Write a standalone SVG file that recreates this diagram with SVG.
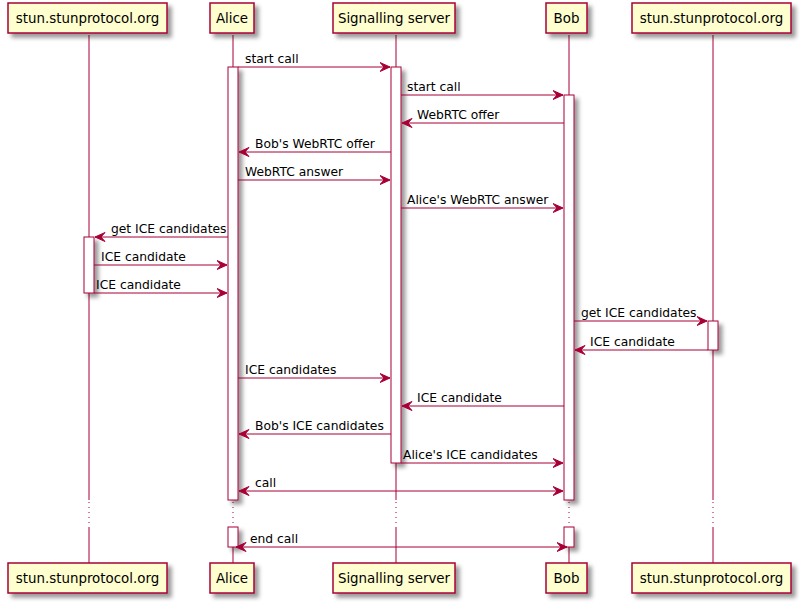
<svg xmlns="http://www.w3.org/2000/svg" width="800" height="602" viewBox="0 0 800 602">
<defs>
<filter id="sh" x="-1" y="-1" width="300%" height="300%">
<feGaussianBlur result="b" stdDeviation="2"/>
<feColorMatrix in="b" result="b2" type="matrix" values="0 0 0 0 0 0 0 0 0 0 0 0 0 0 0 0 0 0 .4 0"/>
<feOffset dx="4" dy="4" in="b2" result="b3"/>
<feBlend in="SourceGraphic" in2="b3" mode="normal"/>
</filter>
<marker id="ah" viewBox="0 0 11 10" refX="10.5" refY="5" markerWidth="11" markerHeight="10" markerUnits="userSpaceOnUse" orient="auto-start-reverse">
<polygon points="0.5,0.5 10.5,5 0.5,9.5 4.5,5" fill="#A80036" stroke="#A80036" stroke-width="1" stroke-linejoin="miter"/>
</marker>
</defs>
<style>
.box{fill:#FEFECE;stroke:#A80036;stroke-width:1.5;filter:url(#sh)}
.pt{font-family:"DejaVu Sans","Liberation Sans",sans-serif;font-size:13.4px;fill:#000;text-anchor:middle}
.life{stroke:#A80036;stroke-width:1;fill:none}
.dot{stroke:#A80036;stroke-width:1;stroke-dasharray:1,4;fill:none}
.act{fill:#FFFFFF;stroke:#A80036;stroke-width:1;filter:url(#sh)}
.msg{stroke:#A80036;stroke-width:1;fill:none;marker-end:url(#ah)}
.bi{stroke:#A80036;stroke-width:1;fill:none;marker-end:url(#ah);marker-start:url(#ah)}
.ml{font-family:"DejaVu Sans","Liberation Sans",sans-serif;font-size:12.3px;fill:#000}
</style>
<rect width="800" height="602" fill="#FFFFFF"/>
<g id="lifelines">
<path class="life" d="M89,35 V500 M89,527 V563"/>
<path class="dot" d="M89,502 V526"/>
<path class="life" d="M233,35 V500 M233,527 V563"/>
<path class="dot" d="M233,502 V526"/>
<path class="life" d="M396,35 V500 M396,527 V563"/>
<path class="dot" d="M396,502 V526"/>
<path class="life" d="M569,35 V500 M569,527 V563"/>
<path class="dot" d="M569,502 V526"/>
<path class="life" d="M713,35 V500 M713,527 V563"/>
<path class="dot" d="M713,502 V526"/>
</g>
<g id="activations">
<rect class="act" x="228" y="67" width="10" height="433"/>
<rect class="act" x="391" y="67" width="10" height="396"/>
<rect class="act" x="564" y="95" width="10" height="405"/>
<rect class="act" x="84" y="237" width="10" height="56"/>
<rect class="act" x="708" y="321" width="10" height="29"/>
<rect class="act" x="228" y="527" width="10" height="20"/>
<rect class="act" x="564" y="527" width="10" height="20"/>
</g>
<g id="stun1_top"><rect class="box" x="8" y="3" width="159" height="30"/><text class="pt" x="87.5" y="23">stun.stunprotocol.org</text></g>
<g id="alice_top"><rect class="box" x="210" y="3" width="44" height="30"/><text class="pt" x="232" y="23">Alice</text></g>
<g id="server_top"><rect class="box" x="333" y="3" width="122" height="30"/><text class="pt" x="394" y="23">Signalling server</text></g>
<g id="bob_top"><rect class="box" x="546" y="3" width="41" height="30"/><text class="pt" x="566.5" y="23">Bob</text></g>
<g id="stun2_top"><rect class="box" x="632" y="3" width="159" height="30"/><text class="pt" x="711.5" y="23">stun.stunprotocol.org</text></g>
<g id="stun1_bottom"><rect class="box" x="8" y="563" width="159" height="30"/><text class="pt" x="87.5" y="583">stun.stunprotocol.org</text></g>
<g id="alice_bottom"><rect class="box" x="210" y="563" width="44" height="30"/><text class="pt" x="232" y="583">Alice</text></g>
<g id="server_bottom"><rect class="box" x="333" y="563" width="122" height="30"/><text class="pt" x="394" y="583">Signalling server</text></g>
<g id="bob_bottom"><rect class="box" x="546" y="563" width="41" height="30"/><text class="pt" x="566.5" y="583">Bob</text></g>
<g id="stun2_bottom"><rect class="box" x="632" y="563" width="159" height="30"/><text class="pt" x="711.5" y="583">stun.stunprotocol.org</text></g>
<g id="connectors">
<line class="msg" x1="238" y1="67" x2="390" y2="67"/><text class="ml" x="245" y="63">start call</text>
<line class="msg" x1="401" y1="95" x2="563" y2="95"/><text class="ml" x="407" y="91">start call</text>
<line class="msg" x1="564" y1="123" x2="402" y2="123"/><text class="ml" x="417" y="119">WebRTC offer</text>
<line class="msg" x1="391" y1="152" x2="239" y2="152"/><text class="ml" x="255" y="148">Bob's WebRTC offer</text>
<line class="msg" x1="238" y1="180" x2="390" y2="180"/><text class="ml" x="245" y="176">WebRTC answer</text>
<line class="msg" x1="401" y1="208" x2="563" y2="208"/><text class="ml" x="407" y="204">Alice's WebRTC answer</text>
<line class="msg" x1="228" y1="237" x2="95" y2="237"/><text class="ml" x="111" y="233">get ICE candidates</text>
<line class="msg" x1="94" y1="265" x2="227" y2="265"/><text class="ml" x="101" y="261">ICE candidate</text>
<line class="msg" x1="94" y1="293" x2="227" y2="293"/><text class="ml" x="96" y="289">ICE candidate</text>
<line class="msg" x1="574" y1="321" x2="707" y2="321"/><text class="ml" x="581" y="317">get ICE candidates</text>
<line class="msg" x1="708" y1="350" x2="575" y2="350"/><text class="ml" x="590" y="346">ICE candidate</text>
<line class="msg" x1="238" y1="378" x2="390" y2="378"/><text class="ml" x="245" y="374">ICE candidates</text>
<line class="msg" x1="564" y1="406" x2="402" y2="406"/><text class="ml" x="417" y="402">ICE candidate</text>
<line class="msg" x1="391" y1="434" x2="239" y2="434"/><text class="ml" x="255" y="430">Bob's ICE candidates</text>
<line class="msg" x1="401" y1="463" x2="563" y2="463"/><text class="ml" x="403" y="459">Alice's ICE candidates</text>
<line class="bi" x1="239" y1="491" x2="563" y2="491"/><text class="ml" x="255" y="487">call</text>
<line class="bi" x1="236" y1="547" x2="567" y2="547"/><text class="ml" x="250" y="543">end call</text>
</g>
</svg>
